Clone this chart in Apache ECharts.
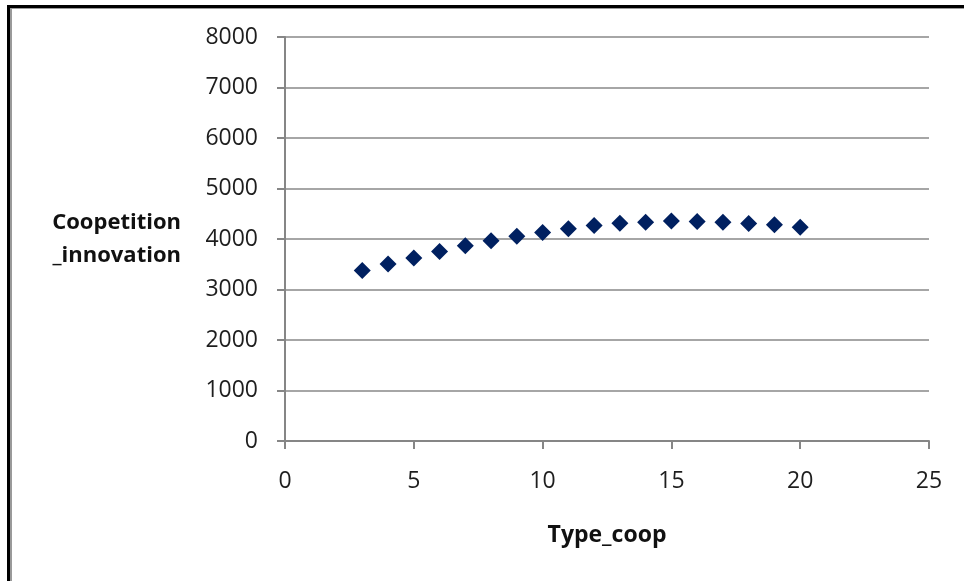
<!DOCTYPE html>
<html>
<head>
<meta charset="utf-8">
<script src="https://cdn.jsdelivr.net/npm/echarts@6/dist/echarts.min.js"></script>
<style>
  html, body { margin: 0; padding: 0; background: #fff; }
  #chart { width: 964px; height: 581px; }
</style>
</head>
<body>
<div id="chart"></div>
<script>
// Type_coop values and the matching Coopetition_innovation results
const typeCoop = [3, 4, 5, 6, 7, 8, 9, 10, 11, 12, 13, 14, 15, 16, 17, 18, 19, 20];
const innovation = [3375, 3507, 3626, 3752, 3864, 3963, 4055, 4129, 4202, 4268, 4314, 4334, 4354, 4347, 4334, 4308, 4281, 4235];

const xTicks = [0, 5, 10, 15, 20, 25];
const yTicks = [0, 1000, 2000, 3000, 4000, 5000, 6000, 7000, 8000];

const points = typeCoop.map((x, i) => [x, innovation[i]]);

const FONT = '"Open Sans", "Liberation Sans", sans-serif';
const axisGray = '#868686';

const chart = echarts.init(document.getElementById('chart'), null, { renderer: 'canvas' });
chart.setOption({
  animation: false,
  backgroundColor: '#ffffff',
  grid: { left: 285, right: 35, top: 37, bottom: 140, containLabel: false },
  xAxis: {
    type: 'value',
    min: xTicks[0],
    max: xTicks[xTicks.length - 1],
    interval: 5,
    name: 'Type_coop',
    nameLocation: 'middle',
    nameGap: 83,
    nameTextStyle: { fontFamily: FONT, fontSize: 23, fontWeight: 'bold', color: '#111' },
    axisLine: { show: true, onZero: false, lineStyle: { color: axisGray, width: 2 } },
    axisTick: { show: true, length: 8, lineStyle: { color: axisGray, width: 2 } },
    axisLabel: { fontFamily: FONT, fontSize: 23, color: '#1e1e1e', margin: 29, formatter: v => String(v) },
    splitLine: { show: false }
  },
  yAxis: {
    type: 'value',
    min: yTicks[0],
    max: yTicks[yTicks.length - 1],
    interval: 1000,
    name: 'Coopetition\n_innovation',
    nameLocation: 'middle',
    nameRotate: 0,
    nameGap: 104,
    nameTextStyle: { fontFamily: FONT, fontSize: 22, fontWeight: 'bold', color: '#111', align: 'right', lineHeight: 33 },
    axisLine: { show: true, lineStyle: { color: axisGray, width: 2 } },
    axisTick: { show: true, length: 8, lineStyle: { color: axisGray, width: 2 } },
    axisLabel: { fontFamily: FONT, fontSize: 23, color: '#1e1e1e', margin: 27, formatter: v => String(v) },
    splitLine: { show: true, lineStyle: { color: '#a6a6a6', width: 2 } }
  },
  series: [{
    type: 'scatter',
    data: points,
    symbol: 'diamond',
    symbolSize: [17, 17],
    itemStyle: { color: '#002060', opacity: 1 }
  }],
  graphic: [
    // outer frame: dark line with a light inner edge on top and left
    { type: 'rect', shape: { x: 7, y: 5, width: 957, height: 3 }, style: { fill: '#000' }, silent: true },
    { type: 'rect', shape: { x: 7, y: 5, width: 3, height: 576 }, style: { fill: '#000' }, silent: true },
    { type: 'rect', shape: { x: 10, y: 8, width: 954, height: 1 }, style: { fill: '#9a9a9a' }, silent: true },
    { type: 'rect', shape: { x: 10, y: 8, width: 2, height: 573 }, style: { fill: '#9a9a9a' }, silent: true }
  ]
});
</script>
</body>
</html>
